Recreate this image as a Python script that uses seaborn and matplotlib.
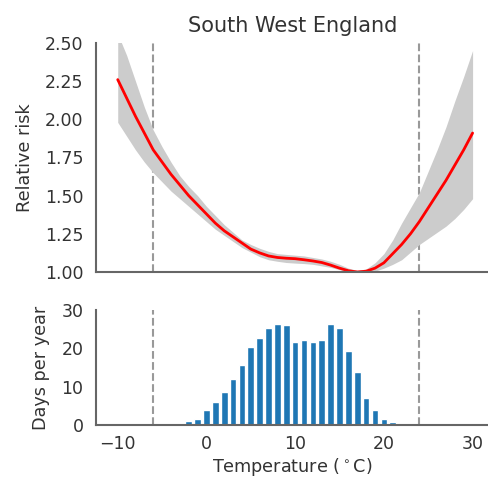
import numpy as np
import pandas as pd
import matplotlib
matplotlib.use("Agg")
import matplotlib.pyplot as plt
import seaborn as sns

# exposure-response curve (1 degree steps)
temp = list(range(-10, 31))
rr = [2.26, 2.14, 2.02, 1.91, 1.80, 1.72, 1.64, 1.57, 1.50, 1.44,
      1.38, 1.32, 1.27, 1.23, 1.19, 1.15, 1.125, 1.105, 1.095, 1.09,
      1.087, 1.08, 1.072, 1.062, 1.045, 1.025, 1.008, 1.0, 1.005, 1.025,
      1.06, 1.12, 1.18, 1.25, 1.33, 1.42, 1.51, 1.60, 1.70, 1.80, 1.91]
rr_low = [1.98, 1.89, 1.80, 1.72, 1.65, 1.59, 1.53, 1.48, 1.43, 1.38,
          1.33, 1.28, 1.24, 1.20, 1.16, 1.13, 1.10, 1.08, 1.07, 1.062,
          1.058, 1.055, 1.05, 1.04, 1.03, 1.015, 1.0, 0.995, 0.995, 1.005,
          1.025, 1.05, 1.08, 1.13, 1.18, 1.22, 1.26, 1.30, 1.35, 1.41, 1.48]
rr_high = [2.56, 2.42, 2.25, 2.08, 1.93, 1.82, 1.72, 1.63, 1.56, 1.50,
           1.43, 1.37, 1.31, 1.26, 1.21, 1.18, 1.155, 1.135, 1.12, 1.115,
           1.11, 1.105, 1.095, 1.085, 1.07, 1.05, 1.025, 1.01, 1.02, 1.06,
           1.12, 1.21, 1.32, 1.42, 1.52, 1.66, 1.80, 1.95, 2.12, 2.28, 2.45]

# temperature distribution
hist_temp = list(range(-3, 22))
days = [0.35, 0.95, 1.65, 3.9, 6.1, 8.6, 12.1, 15.6, 20.3, 22.7,
        25.4, 26.3, 26.1, 21.7, 22.3, 21.6, 22.1, 26.3, 25.2, 19.4,
        13.7, 7.0, 3.9, 1.5, 0.7]

thresholds = [-6, 24]
region = "South West England"

sns.set_style("white")
plt.rcParams["font.family"] = ["DejaVu Sans"]
plt.rcParams["text.color"] = "#333333"
plt.rcParams["axes.labelcolor"] = "#333333"
plt.rcParams["xtick.color"] = "#333333"
plt.rcParams["ytick.color"] = "#333333"

fig = plt.figure(figsize=(4.89, 4.79), dpi=100)
ax1 = fig.add_axes([0.1963, 0.4322, 0.8037, 0.4781])
ax2 = fig.add_axes([0.1963, 0.1127, 0.8037, 0.2401], sharex=ax1)

curve = pd.DataFrame({"temp": temp, "rr": rr})
ax1.fill_between(temp, rr_low, rr_high, color="#cccccc", lw=0)
sns.lineplot(data=curve, x="temp", y="rr", color="red", lw=2, ax=ax1)

hist = pd.DataFrame({"temp": hist_temp, "days": days})
sns.barplot(data=hist, x="temp", y="days", native_scale=True, width=0.75,
            color="#1f77b4", saturation=1, ax=ax2)

for ax in (ax1, ax2):
    for t in thresholds:
        ax.axvline(t, color="#999999", ls="--", lw=1.5, zorder=0)
    sns.despine(ax=ax)
    for s in ("left", "bottom"):
        ax.spines[s].set_color("#666666")
        ax.spines[s].set_linewidth(1.5)
    ax.tick_params(labelsize=12.5, length=0, pad=9)

ax1.set_xlim(-12.45, 31.85)
ax1.set_ylim(1.0, 2.5)
ax1.set_yticks(np.arange(1.0, 2.51, 0.25))
ax1.set_yticklabels([f"{v:.2f}" for v in np.arange(1.0, 2.51, 0.25)])
ax1.tick_params(labelbottom=False)
ax1.set_xlabel("")
ax1.set_ylabel("Relative risk", fontsize=12.7, labelpad=8)
ax1.set_title(region, fontsize=15, pad=8)

ax2.set_ylim(0, 30)
ax2.set_yticks([0, 10, 20, 30])
ax2.set_xticks([-10, 0, 10, 20, 30])
ax2.tick_params(axis="x", pad=7)
ax2.set_xlabel("Temperature ($^\\circ$C)", fontsize=12.7, labelpad=2)
ax2.set_ylabel("Days per year", fontsize=12.7, labelpad=8)

fig.savefig("out.png", dpi=100)
plt.close(fig)
